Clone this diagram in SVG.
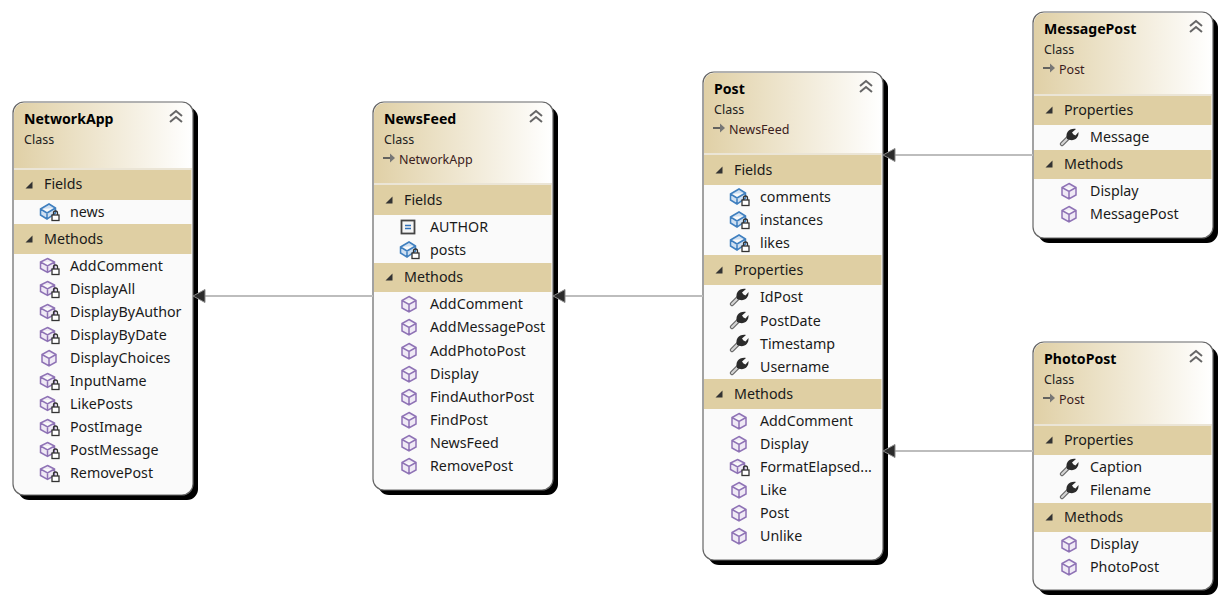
<svg xmlns="http://www.w3.org/2000/svg" width="1224" height="602" viewBox="0 0 1224 602">
<style>
text{font-family:"Noto Sans","Open Sans","Liberation Sans",sans-serif;font-size:14.25px;fill:#1a1a1a}
.t{font-weight:700;font-size:14.1px;fill:#000}
.s{font-size:12.5px;fill:#222}
.r{font-size:12.5px;fill:#3a2020}
.body{fill:#fafafa;stroke:#666;stroke-width:1.2}
.shadow{fill:#000}
.band{fill:#dfcfa3}
.sep{fill:#ebe5d6}
.conn{stroke:#bdbdbd;stroke-width:2;fill:none}
.ah{fill:#2b2b2b;stroke:#8a8a8a;stroke-width:1}
</style>
<defs>
<linearGradient id="hg" x1="0" y1="0" x2="1" y2="0"><stop offset="0" stop-color="#e0d0a6"/><stop offset="1" stop-color="#fff"/></linearGradient>
<symbol id="chev" overflow="visible"><path d="M-6 -1 0-6 6-1M-6 5 0 0 6 5" fill="none" stroke="#666" stroke-width="2"/></symbol>
<symbol id="exp" overflow="visible"><path d="M3.500-3.500V3.500H-3.500Z" fill="#333"/></symbol>
<symbol id="cube" overflow="visible"><path d="M0-7.500 7-3.500V4L0 8-7 4V-3.500ZM-7-3.500 0 .5 7-3.500M0 .5V8" fill="#efe9f5" stroke="#8e72b5" stroke-width="1.500"/></symbol>
<symbol id="lock" overflow="visible"><rect x="-3.500" y="-1" width="7" height="5.500" fill="#fff" stroke="#333" stroke-width="1.300"/><path d="M-2-1V-3A2 2 0 0 1 2-3V-1" fill="none" stroke="#333" stroke-width="1.300"/></symbol>
<symbol id="pm" overflow="visible"><path d="M-1.500-7.500 5.500-4V2.500L-1.500 6.500-8.500 2.500V-4ZM-8.500-4-1.500 0 5.500-4M-1.500 0V6.500" fill="#efe9f5" stroke="#8e72b5" stroke-width="1.500"/><use href="#lock" x="6.500" y="4"/></symbol>
<symbol id="pf" overflow="visible"><path d="M-8.500-3 0-8 6.500-4V1L-2 7-8.500 3ZM-8.500-3-2 1 6.500-4M-2 1V7" fill="#cfe0f2" stroke="#3f7fbf" stroke-width="1.500"/><use href="#lock" x="6.500" y="4"/></symbol>
<symbol id="const" overflow="visible"><rect x="-6.500" y="-6.500" width="13" height="13" fill="#f4f4f4" stroke="#444" stroke-width="1.800"/><path d="M-3-1.500H3M-3 1.500H3" stroke="#2f6fb8" stroke-width="1.400"/></symbol>
<symbol id="wr" overflow="visible"><path d="M-7 7 0 0" fill="none" stroke="#666" stroke-width="4.500" stroke-linecap="round"/><path d="M-7 7 0 0" fill="none" stroke="#d5d5d5" stroke-width="2.200" stroke-linecap="round"/><path d="M-2 2C-4-4 0-9 7-8L3-4.500 4.500-2.500 6.500-1.500 9.500-5C10 2 4 5-2 2Z" fill="#2b2b2b"/></symbol>
<symbol id="inh" overflow="visible"><path d="M-7 0H3" stroke="#555" stroke-width="1.800"/><path d="M0-4.500 5 0 0 4.500Z" fill="#777"/></symbol>
</defs>

<g id="NetworkApp">
<rect class="shadow" x="18" y="107" width="180" height="393" rx="11"/>
<rect class="body" x="13" y="102" width="180" height="393" rx="11"/>
<path fill="url(#hg)" d="M14 168V113A10 10 0 0 1 24 103H182A10 10 0 0 1 192 113V168Z"/>
<rect class="sep" x="14" y="168" width="178" height="2"/>
<text class="t" x="24" y="124">NetworkApp</text><text class="s" x="24" y="144">Class</text>
<use href="#chev" x="176" y="117"/>
<rect class="band" x="14" y="170" width="177.500" height="30"/><use href="#exp" x="29" y="185"/><text x="44" y="189">Fields</text>
<use href="#pf" x="49" y="212"/><text x="70" y="217">news</text>
<rect class="band" x="14" y="224" width="177.500" height="30"/><use href="#exp" x="29" y="239"/><text x="44" y="244">Methods</text>
<use href="#pm" x="49" y="266"/><text x="70" y="271">AddComment</text>
<use href="#pm" x="49" y="289"/><text x="70" y="294">DisplayAll</text>
<use href="#pm" x="49" y="312"/><text x="70" y="317">DisplayByAuthor</text>
<use href="#pm" x="49" y="335"/><text x="70" y="340">DisplayByDate</text>
<use href="#cube" x="49" y="358"/><text x="70" y="363">DisplayChoices</text>
<use href="#pm" x="49" y="381"/><text x="70" y="386">InputName</text>
<use href="#pm" x="49" y="404"/><text x="70" y="409">LikePosts</text>
<use href="#pm" x="49" y="427"/><text x="70" y="432">PostImage</text>
<use href="#pm" x="49" y="450"/><text x="70" y="455">PostMessage</text>
<use href="#pm" x="49" y="473"/><text x="70" y="478">RemovePost</text>
</g>

<g id="NewsFeed">
<rect class="shadow" x="378" y="107" width="180" height="388" rx="11"/>
<rect class="body" x="373" y="102" width="180" height="388" rx="11"/>
<path fill="url(#hg)" d="M374 184V113A10 10 0 0 1 384 103H542A10 10 0 0 1 552 113V184Z"/>
<rect class="sep" x="374" y="183" width="178" height="2"/>
<text class="t" x="384" y="124">NewsFeed</text><text class="s" x="384" y="144">Class</text>
<use href="#inh" x="390" y="158"/><text class="r" x="399" y="164">NetworkApp</text>
<use href="#chev" x="536" y="117"/>
<rect class="band" x="374" y="185" width="177.500" height="30"/><use href="#exp" x="389" y="200"/><text x="404" y="205">Fields</text>
<use href="#const" x="408" y="227"/><text x="430" y="232">AUTHOR</text>
<use href="#pf" x="409" y="250"/><text x="430" y="255">posts</text>
<rect class="band" x="374" y="263" width="177.500" height="29"/><use href="#exp" x="389" y="277"/><text x="404" y="282">Methods</text>
<use href="#cube" x="409" y="304"/><text x="430" y="309">AddComment</text>
<use href="#cube" x="409" y="327"/><text x="430" y="332">AddMessagePost</text>
<use href="#cube" x="409" y="351"/><text x="430" y="356">AddPhotoPost</text>
<use href="#cube" x="409" y="374"/><text x="430" y="379">Display</text>
<use href="#cube" x="409" y="397"/><text x="430" y="402">FindAuthorPost</text>
<use href="#cube" x="409" y="420"/><text x="430" y="425">FindPost</text>
<use href="#cube" x="409" y="443"/><text x="430" y="448">NewsFeed</text>
<use href="#cube" x="409" y="466"/><text x="430" y="471">RemovePost</text>
</g>

<g id="Post">
<rect class="shadow" x="708" y="77" width="180" height="488" rx="11"/>
<rect class="body" x="703" y="72" width="180" height="488" rx="11"/>
<path fill="url(#hg)" d="M704 154V83A10 10 0 0 1 714 73H872A10 10 0 0 1 882 83V154Z"/>
<rect class="sep" x="704" y="153" width="178" height="2"/>
<text class="t" x="714" y="94">Post</text><text class="s" x="714" y="114">Class</text>
<use href="#inh" x="720" y="128"/><text class="r" x="729" y="134">NewsFeed</text>
<use href="#chev" x="866" y="87"/>
<rect class="band" x="704" y="155" width="177.500" height="30"/><use href="#exp" x="719" y="170"/><text x="734" y="175">Fields</text>
<use href="#pf" x="739" y="197"/><text x="760" y="202">comments</text>
<use href="#pf" x="739" y="220"/><text x="760" y="225">instances</text>
<use href="#pf" x="739" y="243"/><text x="760" y="248">likes</text>
<rect class="band" x="704" y="255" width="177.500" height="30"/><use href="#exp" x="719" y="270"/><text x="734" y="275">Properties</text>
<use href="#wr" x="739" y="297"/><text x="760" y="302">IdPost</text>
<use href="#wr" x="739" y="320"/><text x="760" y="326">PostDate</text>
<use href="#wr" x="739" y="343"/><text x="760" y="349">Timestamp</text>
<use href="#wr" x="739" y="366"/><text x="760" y="372">Username</text>
<rect class="band" x="704" y="379" width="177.500" height="30"/><use href="#exp" x="719" y="394"/><text x="734" y="399">Methods</text>
<use href="#cube" x="739" y="421"/><text x="760" y="426">AddComment</text>
<use href="#cube" x="739" y="444"/><text x="760" y="449">Display</text>
<use href="#pm" x="739" y="467"/><text x="760" y="472">FormatElapsed...</text>
<use href="#cube" x="739" y="490"/><text x="760" y="495">Like</text>
<use href="#cube" x="739" y="513"/><text x="760" y="518">Post</text>
<use href="#cube" x="739" y="536"/><text x="760" y="541">Unlike</text>
</g>

<g id="MessagePost">
<rect class="shadow" x="1038" y="17" width="180" height="226" rx="11"/>
<rect class="body" x="1033" y="12" width="180" height="226" rx="11"/>
<path fill="url(#hg)" d="M1034 94V23A10 10 0 0 1 1044 13H1202A10 10 0 0 1 1212 23V94Z"/>
<rect class="sep" x="1034" y="94" width="178" height="2"/>
<text class="t" x="1044" y="34">MessagePost</text><text class="s" x="1044" y="54">Class</text>
<use href="#inh" x="1050" y="68"/><text class="r" x="1059" y="74">Post</text>
<use href="#chev" x="1196" y="27"/>
<rect class="band" x="1034" y="96" width="177.500" height="29"/><use href="#exp" x="1049" y="110"/><text x="1064" y="115">Properties</text>
<use href="#wr" x="1069" y="137"/><text x="1090" y="142">Message</text>
<rect class="band" x="1034" y="150" width="177.500" height="29"/><use href="#exp" x="1049" y="164"/><text x="1064" y="169">Methods</text>
<use href="#cube" x="1069" y="191"/><text x="1090" y="196">Display</text>
<use href="#cube" x="1069" y="214"/><text x="1090" y="219">MessagePost</text>
</g>

<g id="PhotoPost">
<rect class="shadow" x="1038" y="347" width="180" height="248" rx="11"/>
<rect class="body" x="1033" y="342" width="180" height="248" rx="11"/>
<path fill="url(#hg)" d="M1034 424V353A10 10 0 0 1 1044 343H1202A10 10 0 0 1 1212 353V424Z"/>
<rect class="sep" x="1034" y="424" width="178" height="2"/>
<text class="t" x="1044" y="364">PhotoPost</text><text class="s" x="1044" y="384">Class</text>
<use href="#inh" x="1050" y="398"/><text class="r" x="1059" y="404">Post</text>
<use href="#chev" x="1196" y="357"/>
<rect class="band" x="1034" y="426" width="177.500" height="29"/><use href="#exp" x="1049" y="440"/><text x="1064" y="445">Properties</text>
<use href="#wr" x="1069" y="467"/><text x="1090" y="472">Caption</text>
<use href="#wr" x="1069" y="490"/><text x="1090" y="495">Filename</text>
<rect class="band" x="1034" y="503" width="177.500" height="29"/><use href="#exp" x="1049" y="517"/><text x="1064" y="522">Methods</text>
<use href="#cube" x="1069" y="544"/><text x="1090" y="549">Display</text>
<use href="#cube" x="1069" y="567"/><text x="1090" y="572">PhotoPost</text>
</g>

<g id="connectors">
<path class="conn" d="M373 296H205"/><path class="ah" d="M193 296 205 289.500V302.500Z"/>
<path class="conn" d="M703 296H565"/><path class="ah" d="M553 296 565 289.500V302.500Z"/>
<path class="conn" d="M1033 155H895"/><path class="ah" d="M883 155 895 148.500V161.500Z"/>
<path class="conn" d="M1033 451H895"/><path class="ah" d="M883 451 895 444.500V457.500Z"/>
</g>
</svg>
